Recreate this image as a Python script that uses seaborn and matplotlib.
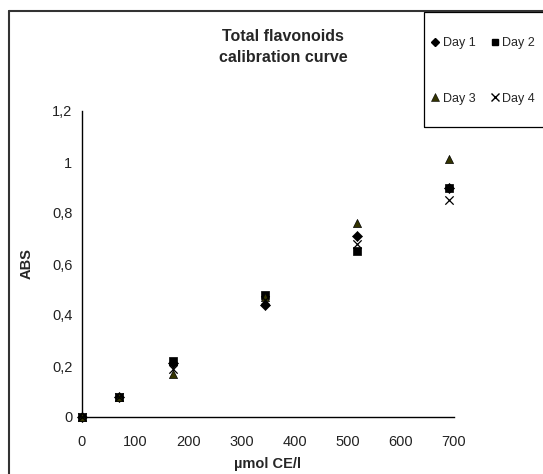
import pandas as pd
import numpy as np
import matplotlib
matplotlib.use("Agg")
import matplotlib.pyplot as plt
import seaborn as sns
from matplotlib.lines import Line2D
from matplotlib.patches import Rectangle

sns.set_style("white")
plt.rcParams['font.family'] = ['Liberation Sans', 'DejaVu Sans']

# data
conc = [0, 69, 172, 344, 517, 690]
day1 = [0, 0.08, 0.21, 0.44, 0.71, 0.90]
day2 = [0, 0.08, 0.22, 0.48, 0.65, 0.90]
day3 = [0, 0.08, 0.17, 0.47, 0.76, 1.01]
day4 = [0, 0.08, 0.19, 0.46, 0.68, 0.85]
days = ["Day 1", "Day 2", "Day 3", "Day 4"]
yticks = [0, 0.2, 0.4, 0.6, 0.8, 1.0, 1.2]
xticks = [0, 100, 200, 300, 400, 500, 600, 700]

df = pd.DataFrame({
    "conc": conc * 4,
    "abs": day1 + day2 + day3 + day4,
    "day": [d for d in days for _ in conc],
})

markers = {"Day 1": "D", "Day 2": "s", "Day 3": "^", "Day 4": "x"}
colors = {"Day 1": "black", "Day 2": "black", "Day 3": "#333300", "Day 4": "black"}
sizes = {"Day 1": 26, "Day 2": 30, "Day 3": 34, "Day 4": 36}

W, H = 543, 474
fig = plt.figure(figsize=(W / 100, H / 100), dpi=100)
ax = fig.add_axes([82 / W, 1 - 417 / H, (454 - 82) / W, (417 - 111) / H])

for d in days:
    sub = df[df["day"] == d]
    if d == "Day 4":
        ax.scatter(sub["conc"], sub["abs"], marker="x", color="black", s=sizes[d],
                   linewidths=0.9, clip_on=False, zorder=3)
    else:
        sns.scatterplot(data=sub, x="conc", y="abs", marker=markers[d],
                        color=colors[d], edgecolor="black", linewidth=0.5,
                        s=sizes[d], ax=ax, clip_on=False, zorder=3, legend=False)

ax.set_xlim(0, 700)
ax.set_ylim(0, 1.2)
ax.set_xticks(xticks)
ax.set_yticks(yticks)
ax.set_xticklabels([str(x) for x in xticks])
ax.set_yticklabels([("%g" % y).replace(".", ",") for y in yticks])
ax.tick_params(direction="out", length=4, width=0.8, colors="black",
               labelsize=10.5, labelcolor="#222222", pad=3)
ax.tick_params(axis="x", pad=9)
for s in ["top", "right"]:
    ax.spines[s].set_visible(False)
for s in ["left", "bottom"]:
    ax.spines[s].set_color("black")
    ax.spines[s].set_linewidth(1.0)

ax.set_xlabel("µmol CE/l", fontsize=10.5, fontweight="bold", labelpad=6)
ax.set_ylabel("ABS", fontsize=10.5, fontweight="bold", labelpad=13)

fig.text(283 / W, 1 - 47 / H, "Total flavonoids\ncalibration curve",
         ha="center", va="center", fontsize=11.5, fontweight="bold",
         linespacing=1.55)

# legend: drawn without frame, box added by hand
h = {
    "Day 1": Line2D([], [], marker="D", ls="", color="black", markersize=4.5),
    "Day 2": Line2D([], [], marker="s", ls="", color="black", markersize=5),
    "Day 3": Line2D([], [], marker="^", ls="", color="#333300", markeredgecolor="black",
                    markeredgewidth=0.4, markersize=5.5),
    "Day 4": Line2D([], [], marker="x", ls="", color="black", markersize=5.5),
}
order = ["Day 1", "Day 3", "Day 2", "Day 4"]
fig.legend([h[k] for k in order], order, ncol=2, loc="upper left",
           bbox_to_anchor=(431 / W, 1 - 37 / H), fontsize=9,
           frameon=False, handlelength=0.7, handletextpad=0.25,
           columnspacing=1.2, labelspacing=3.5, borderpad=0, borderaxespad=0)
fig.add_artist(Rectangle((424 / W, 1 - 127 / H), 125 / W, 115 / H,
                         fill=False, edgecolor="black", lw=0.9))

# partial outer frame
fig.add_artist(Line2D([9 / W, 9 / W], [0, 1 - 11 / H], color="#333333", lw=1.5))
fig.add_artist(Line2D([9 / W, 1], [1 - 11 / H, 1 - 11 / H], color="#333333", lw=1.5))

fig.savefig("out.png", dpi=100)
